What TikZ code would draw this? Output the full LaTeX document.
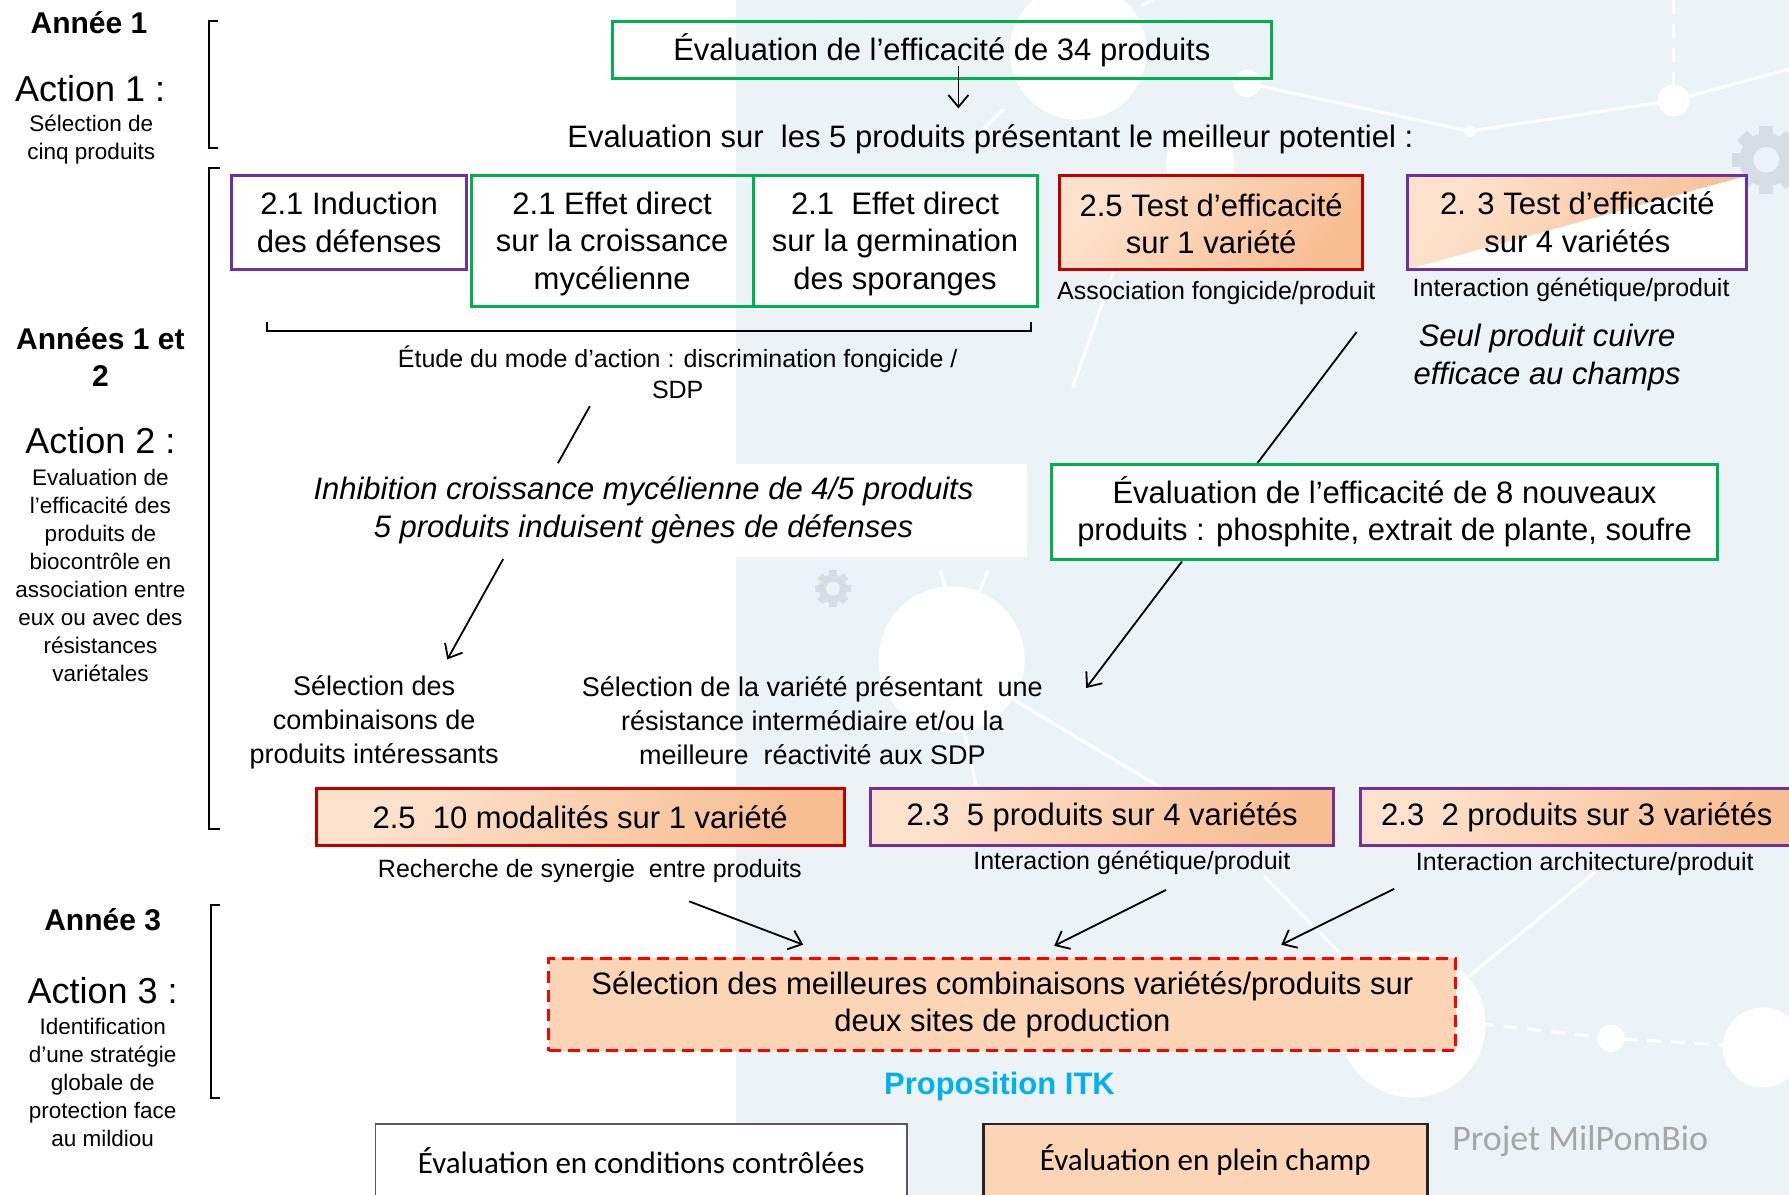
\documentclass[tikz,border=0pt]{standalone}
\usepackage{fontspec}
\setmainfont{Liberation Sans}
\newfontfamily\calibri{Carlito}
\usetikzlibrary{fit,arrows.meta,calc}
\definecolor{cgreen}{RGB}{0,176,80}
\definecolor{cpurple}{RGB}{112,48,160}
\definecolor{cred}{RGB}{192,0,0}
\definecolor{cdash}{RGB}{255,0,0}
\definecolor{peachA}{RGB}{252,226,205}
\definecolor{peachB}{RGB}{247,190,148}
\definecolor{peach}{RGB}{251,213,181}
\definecolor{bgl}{RGB}{236,243,246}
\definecolor{gearc}{RGB}{214,222,229}
\definecolor{itk}{RGB}{0,176,240}
\definecolor{grayt}{RGB}{166,166,166}
\newcommand\fsz[2]{\fontsize{#1}{#2}\selectfont}
\newcommand\gearat[3]{%
  \fill[gearc] (#1,#2) circle (#3*0.78);
  \foreach \ga in {0,45,...,315}{%
    \fill[gearc, rotate around={\ga:(#1,#2)}] ($(#1,#2)+(-#3*0.2,-#3)$) rectangle ($(#1,#2)+(#3*0.2,-#3*0.6)$);}
  \fill[bgl] (#1,#2) circle (#3*0.38);}
\begin{document}
\begin{tikzpicture}[x=1.141pt,y=-1.141pt,
  box/.style={line width=3pt, inner sep=0pt},
  gbox/.style={box, draw=cgreen},
  pbox/.style={box, draw=cpurple},
  shd/.style={top color=peachA, bottom color=peachB, shading angle=50},
  rgbox/.style={box, draw=cred, shd},
  pgbox/.style={box, draw=cpurple, shd},
  yr/.style={font=\bfseries\fsz{30}{37.6}, align=center, inner sep=0pt},
  act/.style={font=\fsz{36}{40}, inner sep=0pt},
  sm/.style={font=\fsz{22.5}{28}, align=center, inner sep=0pt},
  lbl/.style={font=\fsz{25}{30.8}, align=center, inner sep=0pt},
  mid/.style={font=\fsz{27}{34}, align=center, inner sep=0pt},
  txt/.style={font=\fsz{31}{37.6}, align=center, inner sep=0pt},
  brk/.style={line width=2pt, black},
  ln/.style={line width=1.8pt, black},
  arr/.style={line width=1.8pt, black, -{Straight Barb[length=12pt,width=20pt]}},
  deco/.style={white, line width=3pt},
]
\clip (0,0) rectangle (1568,1047);
\fill[bgl] (645,0) rectangle (1568,1047);
% background decoration
\draw[deco] (1093,73) -- (1288,115) -- (1467,88) -- (1570,60);
\draw[deco] (880,95) -- (850,125);
\draw[deco] (1000,5) -- (1020,-5);
\draw[deco, dashed, dash pattern=on 14pt off 10pt] (1467,0) -- (1467,75);
\fill[white] (945,45) circle (60);
\fill[white] (1093,73) circle (12);
\fill[white] (1467,88) circle (14);
\fill[white] (1288,115) circle (5);
\fill[white] (1052,143) circle (30);
\draw[deco] (1287,856) -- (1401,762);
\draw[deco] (1108,768) -- (1183,844);
\draw[deco] (940,340) -- (1000,170);
\draw[deco] (888,613) -- (1017,690);
\draw[deco] (844,637) -- (856,690);
\draw[deco] (830,520) -- (824,500);
\draw[deco] (857,522) -- (866,500);
\fill[white] (834,578) circle (64);
\fill[white] (1238,898) circle (64);
\draw[deco, dashed, dash pattern=on 14pt off 10pt] (1276,895) -- (1412,910) -- (1545,918);
\fill[white] (1412,910) circle (12);
\fill[white] (1545,918) circle (35);
\gearat{730}{516}{16}
\gearat{1548}{140}{30}

% left column
\node[yr] (y1) at (78,20) {Année 1};
\node[act] (a1) at (79,78) {Action 1 :};
\node[sm] (a1t) at (80,122) {Sélection de\\cinq produits};
\draw[brk] (191,18) -- (183,18) -- (183,130) -- (191,130);

\node[yr] (y2) at (88,313) {Années 1 et\\2};
\node[act] (a2) at (88,386) {Action 2 :};
\node[sm] (a2t) at (88,504) {Evaluation de\\l’efficacité des\\produits de\\biocontrôle en\\association entre\\eux ou avec des\\résistances\\variétales};
\draw[brk] (193,147) -- (183,147) -- (183,727) -- (193,727);

\node[yr] (y3) at (90,806) {Année 3};
\node[act] (a3) at (90,868) {Action 3 :};
\node[sm] (a3t) at (90,949) {Identification\\d’une stratégie\\globale de\\protection face\\au mildiou};
\draw[brk] (193,793) -- (185,793) -- (185,962) -- (193,962);

% top
\node[gbox, fit={(537,19) (1114,69)}] (e34) {};
\node[txt] (e34t) at (e34.center) {Évaluation de l’efficacité de 34 produits};
\coordinate (a0s) at (840,58);
\coordinate (a0e) at (840,95);
\draw[arr] (a0s) -- (a0e);
\node[txt] (e5) at (868,122) {Evaluation sur\ \ les 5 produits présentant le meilleur potentiel :};

% row 1
\node[pbox, fill=white, fit={(203,154) (409,236)}] (ind) {};
\node[txt] (indt) at (ind.center) {2.1 Induction\\des défenses};
\node[gbox, fit={(413,154) (660,269)}] (myc) {};
\node[txt] (myct) at ($(myc.center)+(0,2)$) {2.1 Effet direct\\sur la croissance\\mycélienne};
\node[gbox, fill=white, fit={(660,154) (909,269)}] (spo) {};
\node[txt] (spot) at ($(spo.center)+(0,2)$) {2.1\ \ Effet direct\\sur la germination\\des sporanges};
\node[rgbox, fit={(929,154) (1194,236)}] (t1) {};
\node[txt] (t1t) at ($(t1.center)+(0,1)$) {2.5 Test d’efficacité\\sur 1 variété};
\fill[white] (1234,154) rectangle (1531,236);
\shade[top color=peachA, bottom color=peachB, shading angle=55] (1234,154) -- (1531,154) -- (1234,236) -- cycle;
\node[pbox, fit={(1234,154) (1531,236)}] (t4) {};
\node[txt] (t4t) at (t4.center) {2. 3 Test d’efficacité\\sur 4 variétés};
\node[lbl] (l1) at (1066,257) {Association fongicide/produit};
\node[lbl] (l2) at (1377,254) {Interaction génétique/produit};

\draw[brk] (234,282) -- (234,290) -- (904,290) -- (904,282);
\node[lbl] (mode) at (594,326.5) {Étude du mode d’action : discrimination fongicide /\\SDP};

\coordinate (c1s) at (517,356);
\coordinate (c1e) at (489,406);
\draw[ln] (c1s) -- (c1e);
\node[fit={(228,407) (900,488)}, fill=white, inner sep=0pt] (inh) {};
\node[txt, font=\itshape\fsz{31}{37.6}] (inht) at (inh.center) {Inhibition croissance mycélienne de 4/5 produits\\5 produits induisent gènes de défenses};

\node[txt, font=\itshape\fsz{31}{37.6}] (cu) at (1356,313.5) {Seul produit cuivre\\efficace au champs};
\coordinate (c2s) at (1189,291);
\coordinate (c2e) at (1102,406);
\draw[ln] (c2s) -- (c2e);
\node[gbox, fill=white, fit={(922,407) (1505,490)}] (e8) {};
\node[txt] (e8t) at (e8.center) {Évaluation de l’efficacité de 8 nouveaux\\produits : phosphite, extrait de plante, soufre};

\coordinate (c3s) at (441,490);
\coordinate (c3e) at (392,578);
\draw[arr] (c3s) -- (c3e);
\coordinate (c4s) at (1036,492);
\coordinate (c4e) at (952,603);
\draw[arr] (c4s) -- (c4e);

\node[mid] (selc) at (328,633) {Sélection des\\combinaisons de\\produits intéressants};
\node[mid] (selv) at (712,631.5) {Sélection de la variété présentant\ \ une\\résistance intermédiaire et/ou la\\meilleure\ \ réactivité aux SDP};

% row 2
\node[rgbox, fit={(277,691) (740,741)}] (m10) {};
\node[txt] (m10t) at (m10.center) {2.5\ \ 10 modalités sur 1 variété};
\node[pgbox, fit={(763,691) (1169,741)}] (p5) {};
\node[txt] (p5t) at (p5.center) {2.3\ \ 5 produits sur 4 variétés};
\node[pgbox, fit={(1192,691) (1572,741)}] (p2) {};
\node[txt] (p2t) at (p2.center) {2.3\ \ 2 produits sur 3 variétés};
\node[lbl] (l3) at (517,763) {Recherche de synergie\ \ entre produits};
\node[lbl] (l4) at (992,756) {Interaction génétique/produit};
\node[lbl] (l5) at (1389,757) {Interaction architecture/produit};

\coordinate (d1s) at (604,790); \coordinate (d1e) at (704,828);
\coordinate (d2s) at (1022,780); \coordinate (d2e) at (924,829);
\coordinate (d3s) at (1222,779); \coordinate (d3e) at (1123,828);
\draw[arr] (d1s) -- (d1e);
\draw[arr] (d2s) -- (d2e);
\draw[arr] (d3s) -- (d3e);

\node[box, draw=cdash, fill=peach, dashed, dash pattern=on 12pt off 7pt, fit={(481,840) (1276,921)}] (sel) {};
\node[txt] (selt) at (sel.center) {Sélection des meilleures combinaisons variétés/produits sur\\deux sites de production};
\node[txt, font=\bfseries\fsz{31}{37.6}, text=itk] (itkn) at (876,952) {Proposition ITK};

% bottom
\node[box, line width=1.5pt, draw={rgb,255:red,89;green,89;blue,89}, fill=white, fit={(329,985) (795,1049)}] (ecc) {};
\node[font=\calibri\fsz{31}{36}, inner sep=0pt] (ecct) at (ecc.center) {Évaluation en conditions contrôlées};
\node[box, line width=2.5pt, draw={rgb,255:red,38;green,38;blue,38}, fill=peach, fit={(862,985) (1251,1049)}] (epc) {};
\node[font=\calibri\fsz{31}{36}, inner sep=0pt] (epct) at (epc.center) {Évaluation en plein champ};
\node[font=\calibri\fsz{36}{40}, text=grayt, inner sep=0pt] (proj) at (1385,1000) {Projet MilPomBio};
\end{tikzpicture}
\end{document}
